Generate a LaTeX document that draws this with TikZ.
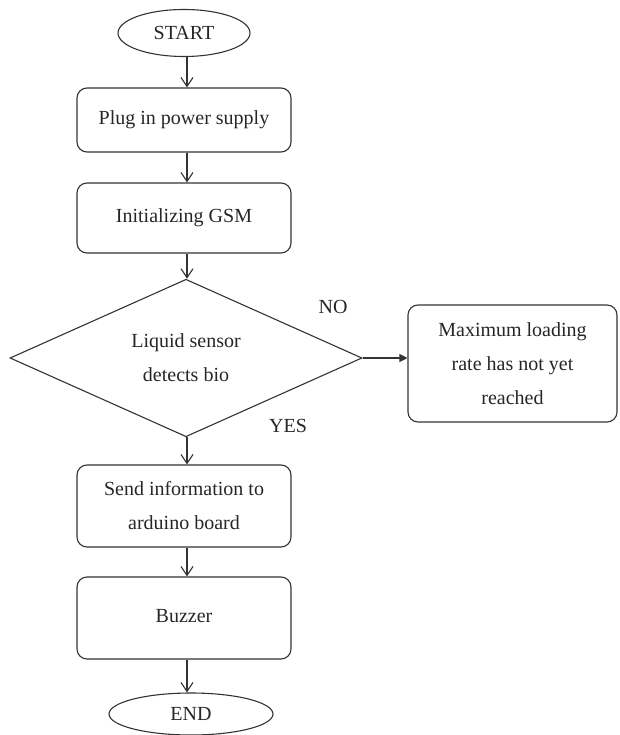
\documentclass[tikz,border=0pt]{standalone}
\usepackage{fontspec}
\setmainfont{Liberation Serif}
\usetikzlibrary{shapes.geometric,arrows.meta}
\begin{document}
\begin{tikzpicture}[x=1pt,y=-1pt,
  every node/.style={font=\fontsize{20}{34}\selectfont, text=black!85},
  line/.style={draw=black!80, line width=1.1pt},
  procbox/.style={line, rounded corners=10pt, minimum width=214pt, inner sep=0pt, align=center},
  term/.style={line, ellipse, inner sep=0pt},
  dec/.style={line, diamond, minimum width=352pt, minimum height=147pt, inner sep=0pt, align=center},
  flow/.style={line, -{Straight Barb[length=9pt,width=12pt,line width=1.1pt]}},
  flowR/.style={line, -{Triangle[length=8pt,width=8pt]}}]
\useasboundingbox (0,0) rectangle (619,735);
\node[term, minimum width=132pt, minimum height=47pt] (start) at (184,33) {START};
\node[procbox, minimum height=64pt] (b1) at (184,120) {\raisebox{5pt}{Plug in power supply}};
\node[procbox, minimum height=70pt] (b2) at (184,218) {\raisebox{3pt}{Initializing GSM}};
\node[dec] (d) at (186,358) {Liquid sensor\\detects bio};
\node[procbox, minimum width=209pt, minimum height=117pt] (r) at (512.5,363.5) {Maximum loading\\rate has not yet\\reached};
\node[procbox, minimum height=82pt] (b3) at (184,506) {Send information to\\arduino board};
\node[procbox, minimum height=82pt] (b4) at (184,618) {\raisebox{5pt}{Buzzer}};
\node[term, minimum width=164pt, minimum height=42pt] (end) at (191,714) {END};
\node (no) at (333,307) {NO};
\node (yes) at (288,426) {YES};
\draw[flow] (start.south -| 187,0) -- (b1.north -| 187,0);
\draw[flow] (b1.south -| 187,0) -- (b2.north -| 187,0);
\draw[flow] (b2.south -| 187,0) -- (d.north -| 187,0);
\draw[flow] (d.south -| 187,0) -- (b3.north -| 187,0);
\draw[flow] (b3.south -| 187,0) -- (b4.north -| 187,0);
\draw[flow] (b4.south -| 187,0) -- (end.north -| 187,0);
\draw[flowR] (d.east) -- (d.east -| r.west);
\end{tikzpicture}
\end{document}
